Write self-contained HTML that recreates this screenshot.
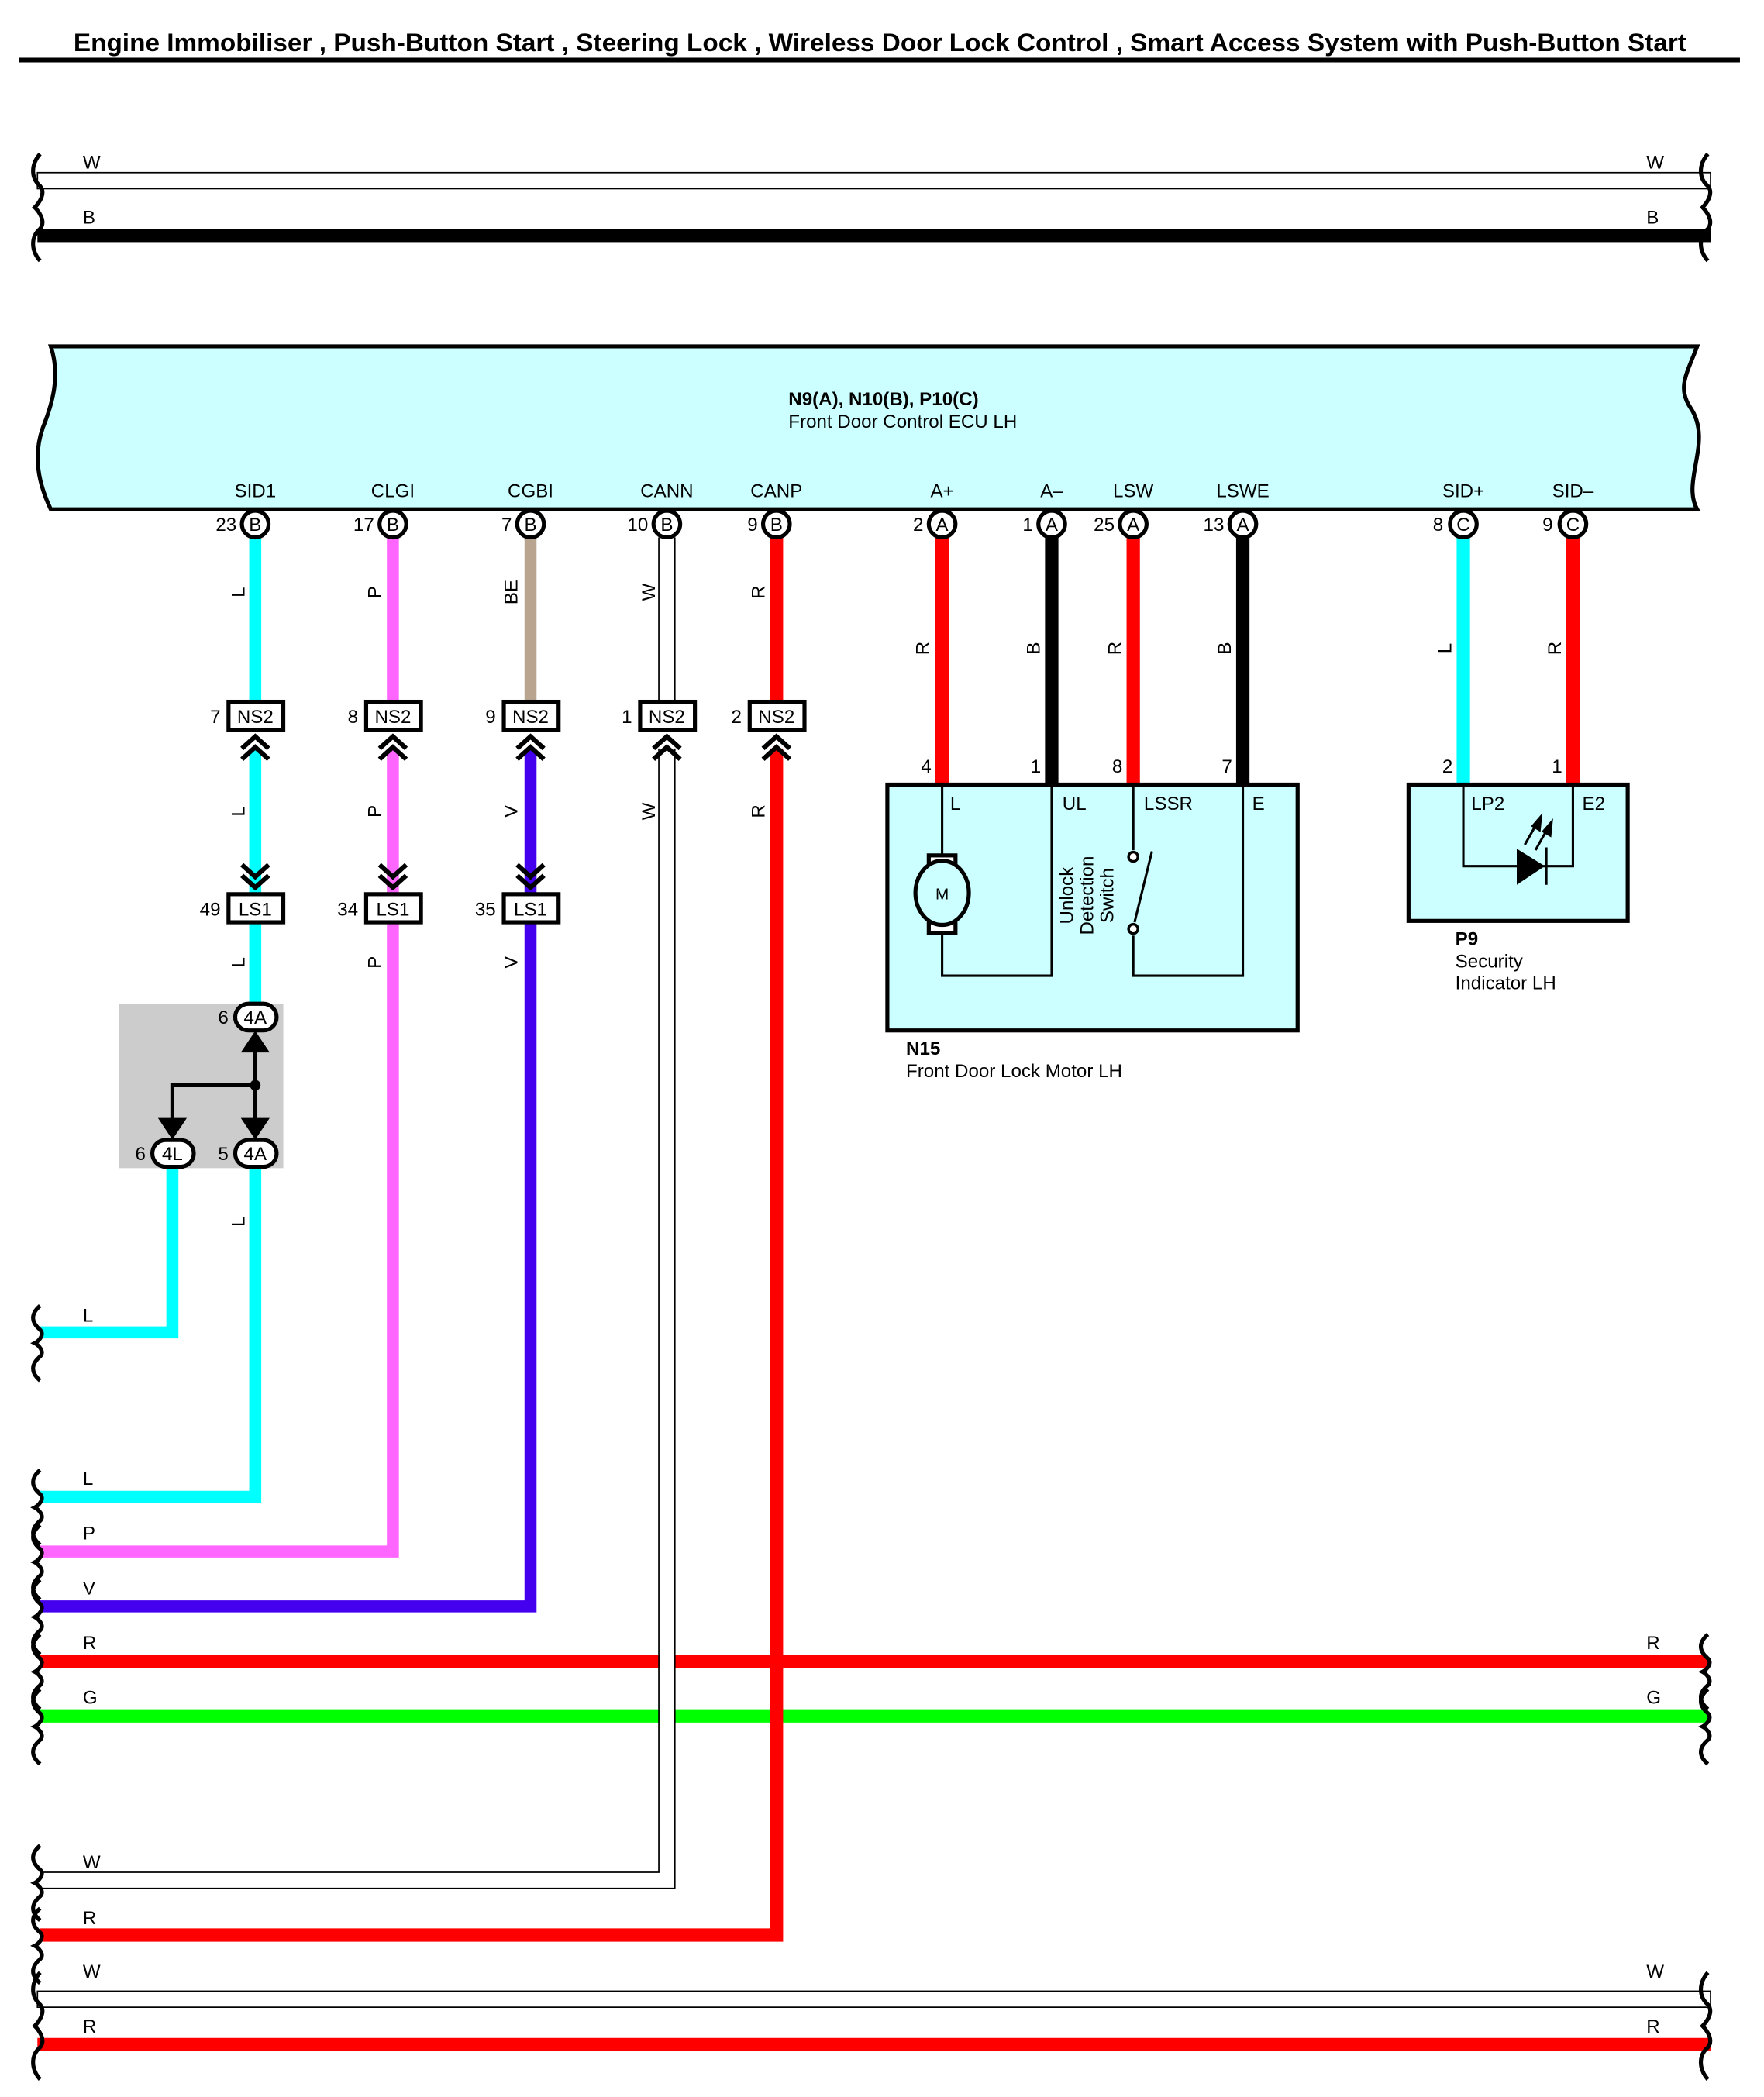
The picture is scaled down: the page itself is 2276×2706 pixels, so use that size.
<!DOCTYPE html>
<html><head><meta charset="utf-8"><style>
html,body{margin:0;padding:0;background:#fff}
svg{display:block}
text{font-family:"Liberation Sans",sans-serif;font-size:14px;fill:#000}
.b{font-weight:bold}
.rot{font-size:13px}
</style></head><body>
<svg width="2276" height="2706" viewBox="0 0 1320 1569" xmlns="http://www.w3.org/2000/svg">
<rect width="1320" height="1569" fill="#fff"/>
<text x="55" y="38" class="b" style="font-size:19px" textLength="1207" lengthAdjust="spacingAndGlyphs">Engine Immobiliser , Push-Button Start , Steering Lock , Wireless Door Lock Control , Smart Access System with Push-Button Start</text>
<rect x="14" y="43" width="1288" height="3.5" fill="#000"/>

<defs>
<path id="brL" d="M0,0 C-7,8 -7,18 0,24 C5,30 -2,38 -4,40 C-2,42 5,50 0,56 C-7,62 -7,72 0,80" fill="none" stroke="#000" stroke-width="3"/>
<path id="brS" d="M0,0 C-7,6 -7,12 0,18 C4,22 -2,27 -4,28 C-2,29 4,34 0,38 C-7,44 -7,50 0,56" fill="none" stroke="#000" stroke-width="3"/>
</defs>

<!-- top W / B -->
<rect x="28" y="129" width="1252" height="12" fill="#fff" stroke="#000" stroke-width="1"/>
<rect x="28" y="171" width="1252" height="10" fill="#000"/>
<text x="62" y="126">W</text><text x="1232" y="126">W</text>
<text x="62" y="167">B</text><text x="1232" y="167">B</text>
<use href="#brL" x="30" y="115"/><use href="#brL" x="1278" y="115"/>

<!-- ECU -->
<path d="M38,259 L1270,259 C1262,280 1255,290 1265,305 C1282,330 1258,360 1270,381 L38,381 C28,360 25,340 32,320 C40,300 45,280 38,259 Z" fill="#ccffff" stroke="#000" stroke-width="3"/>
<text x="590" y="303" class="b">N9(A), N10(B), P10(C)</text>
<text x="590" y="320">Front Door Control ECU LH</text>
<g text-anchor="middle">
<text x="191" y="372">SID1</text><text x="294" y="372">CLGI</text><text x="397" y="372">CGBI</text><text x="499" y="372">CANN</text><text x="581" y="372">CANP</text>
<text x="705" y="372">A+</text><text x="787" y="372">A–</text><text x="848" y="372">LSW</text><text x="930" y="372">LSWE</text>
<text x="1095" y="372">SID+</text><text x="1177" y="372">SID–</text>
</g>

<!-- wires -->
<g fill="none" stroke-linejoin="miter">
<polyline points="191,402 191,525" stroke="#00ffff" stroke-width="9"/>
<polyline points="191,560 191,669" stroke="#00ffff" stroke-width="9"/>
<polyline points="191,690 191,750" stroke="#00ffff" stroke-width="9"/>
<polyline points="191,874 191,1120 30,1120" stroke="#00ffff" stroke-width="9"/>
<polyline points="129,874 129,997 30,997" stroke="#00ffff" stroke-width="9"/>
<polyline points="294,402 294,525" stroke="#ff66ff" stroke-width="9"/>
<polyline points="294,560 294,669" stroke="#ff66ff" stroke-width="9"/>
<polyline points="294,690 294,1161 30,1161" stroke="#ff66ff" stroke-width="9"/>
<polyline points="397,402 397,525" stroke="#b8a48f" stroke-width="9"/>
<polyline points="397,560 397,669" stroke="#4400ee" stroke-width="9"/>
<polyline points="397,690 397,1202 30,1202" stroke="#4400ee" stroke-width="9"/>
<line x1="30" y1="1243" x2="1278" y2="1243" stroke="#ff0000" stroke-width="10"/>
<line x1="30" y1="1284" x2="1278" y2="1284" stroke="#00ff00" stroke-width="10"/>
<polyline points="493,402 493,525" stroke="#000" stroke-width="1"/>
<polyline points="505,402 505,525" stroke="#000" stroke-width="1"/>
<rect x="493.5" y="1236" width="11" height="54" fill="#fff" stroke="none"/>
<polyline points="493,560 493,1401 30,1401" stroke="#000" stroke-width="1"/>
<polyline points="505,560 505,1413 30,1413" stroke="#000" stroke-width="1"/>
<polyline points="581,402 581,525" stroke="#ff0000" stroke-width="10"/>
<polyline points="581,560 581,1448 30,1448" stroke="#ff0000" stroke-width="10"/>
<line x1="705" y1="402" x2="705" y2="587" stroke="#ff0000" stroke-width="10"/>
<line x1="787" y1="402" x2="787" y2="587" stroke="#000" stroke-width="10"/>
<line x1="848" y1="402" x2="848" y2="587" stroke="#ff0000" stroke-width="10"/>
<line x1="930" y1="402" x2="930" y2="587" stroke="#000" stroke-width="10"/>
<line x1="1095" y1="402" x2="1095" y2="587" stroke="#00ffff" stroke-width="10"/>
<line x1="1177" y1="402" x2="1177" y2="587" stroke="#ff0000" stroke-width="10"/>
</g>

<!-- bottom W / R -->
<rect x="28" y="1490" width="1252" height="12" fill="#fff" stroke="#000" stroke-width="1"/>
<line x1="28" y1="1530" x2="1280" y2="1530" stroke="#ff0000" stroke-width="10"/>
<text x="62" y="1480">W</text><text x="1232" y="1480">W</text>
<text x="62" y="1521">R</text><text x="1232" y="1521">R</text>
<use href="#brL" x="30" y="1476"/><use href="#brL" x="1278" y="1476"/>

<text x="62" y="989">L</text><use href="#brS" x="30" y="977"/>
<text x="62" y="1111">L</text><use href="#brS" x="30" y="1100"/>
<text x="62" y="1152">P</text><use href="#brS" x="30" y="1141"/>
<text x="62" y="1193">V</text><use href="#brS" x="30" y="1182"/>
<text x="62" y="1234">R</text><use href="#brS" x="30" y="1223"/><use href="#brS" x="1278" y="1223"/>
<text x="62" y="1275">G</text><use href="#brS" x="30" y="1264"/><use href="#brS" x="1278" y="1264"/>
<text x="1232" y="1234">R</text><text x="1232" y="1275">G</text>
<text x="62" y="1398">W</text><use href="#brS" x="30" y="1381"/>
<text x="62" y="1440">R</text><use href="#brS" x="30" y="1428"/>

<g stroke="#000" stroke-width="3" fill="#fff">
<circle cx="191" cy="392" r="10"/><circle cx="294" cy="392" r="10"/><circle cx="397" cy="392" r="10"/><circle cx="499" cy="392" r="10"/><circle cx="581" cy="392" r="10"/>
<circle cx="705" cy="392" r="10"/><circle cx="787" cy="392" r="10"/><circle cx="848" cy="392" r="10"/><circle cx="930" cy="392" r="10"/>
<circle cx="1095" cy="392" r="10"/><circle cx="1177" cy="392" r="10"/>
</g>
<g text-anchor="middle" style="font-size:13px">
<text x="191" y="397">B</text><text x="294" y="397">B</text><text x="397" y="397">B</text><text x="499" y="397">B</text><text x="581" y="397">B</text>
<text x="705" y="397">A</text><text x="787" y="397">A</text><text x="848" y="397">A</text><text x="930" y="397">A</text>
<text x="1095" y="397">C</text><text x="1177" y="397">C</text>
</g>
<g text-anchor="end">
<text x="177" y="397">23</text><text x="280" y="397">17</text><text x="383" y="397">7</text><text x="485" y="397">10</text><text x="567" y="397">9</text>
<text x="691" y="397">2</text><text x="773" y="397">1</text><text x="834" y="397">25</text><text x="916" y="397">13</text>
<text x="1080" y="397">8</text><text x="1162" y="397">9</text>
<text x="697" y="578">4</text><text x="779" y="578">1</text><text x="840" y="578">8</text><text x="922" y="578">7</text>
<text x="1087" y="578">2</text><text x="1169" y="578">1</text>
</g>

<g>
<g stroke="#000" stroke-width="3" fill="#fff">
<rect x="171" y="525" width="41" height="21"/><rect x="274" y="525" width="41" height="21"/><rect x="377" y="525" width="41" height="21"/><rect x="479" y="525" width="41" height="21"/><rect x="561" y="525" width="41" height="21"/>
<rect x="171" y="669" width="41" height="21"/><rect x="274" y="669" width="41" height="21"/><rect x="377" y="669" width="41" height="21"/>
</g>
<g text-anchor="middle">
<text x="191" y="541">NS2</text><text x="294" y="541">NS2</text><text x="397" y="541">NS2</text><text x="499" y="541">NS2</text><text x="581" y="541">NS2</text>
<text x="191" y="685">LS1</text><text x="294" y="685">LS1</text><text x="397" y="685">LS1</text>
</g>
<g text-anchor="end">
<text x="165" y="541">7</text><text x="268" y="541">8</text><text x="371" y="541">9</text><text x="473" y="541">1</text><text x="555" y="541">2</text>
<text x="165" y="685">49</text><text x="268" y="685">34</text><text x="371" y="685">35</text>
</g>
<g fill="none" stroke="#000" stroke-width="3.5">
<path d="M181,560 L191,551 L201,560 M181,568 L191,559 L201,568"/>
<path d="M284,560 L294,551 L304,560 M284,568 L294,559 L304,568"/>
<path d="M387,560 L397,551 L407,560 M387,568 L397,559 L407,568"/>
<path d="M489,560 L499,551 L509,560 M489,568 L499,559 L509,568"/>
<path d="M571,560 L581,551 L591,560 M571,568 L581,559 L591,568"/>
<path d="M181,647 L191,656 L201,647 M181,655 L191,664 L201,655"/>
<path d="M284,647 L294,656 L304,647 M284,655 L294,664 L304,655"/>
<path d="M387,647 L397,656 L407,647 M387,655 L397,664 L407,655"/>
</g>
</g>

<g class="rot" text-anchor="middle">
<text transform="translate(183,443) rotate(-90)">L</text>
<text transform="translate(285,443) rotate(-90)">P</text>
<text transform="translate(387,443) rotate(-90)">BE</text>
<text transform="translate(490,443) rotate(-90)">W</text>
<text transform="translate(572,443) rotate(-90)">R</text>
<text transform="translate(183,607) rotate(-90)">L</text>
<text transform="translate(285,607) rotate(-90)">P</text>
<text transform="translate(387,607) rotate(-90)">V</text>
<text transform="translate(490,607) rotate(-90)">W</text>
<text transform="translate(572,607) rotate(-90)">R</text>
<text transform="translate(183,720) rotate(-90)">L</text>
<text transform="translate(285,720) rotate(-90)">P</text>
<text transform="translate(387,720) rotate(-90)">V</text>
<text transform="translate(183,914) rotate(-90)">L</text>
<text transform="translate(695,485) rotate(-90)">R</text>
<text transform="translate(778,485) rotate(-90)">B</text>
<text transform="translate(839,485) rotate(-90)">R</text>
<text transform="translate(921,485) rotate(-90)">B</text>
<text transform="translate(1086,485) rotate(-90)">L</text>
<text transform="translate(1168,485) rotate(-90)">R</text>
</g>

<rect x="89" y="751" width="123" height="123" fill="#cccccc"/>
<g stroke="#000" stroke-width="3" fill="none">
<line x1="191" y1="812" x2="191" y2="780"/>
<polyline points="191,812 129,812 129,843"/>
<line x1="191" y1="812" x2="191" y2="843"/>
<path d="M183,786 L191,774 L199,786 Z" fill="#000"/>
<path d="M121,838 L129,850 L137,838 Z" fill="#000"/>
<path d="M183,838 L191,850 L199,838 Z" fill="#000"/>
</g>
<circle cx="191" cy="812" r="4" fill="#000"/>
<g stroke="#000" stroke-width="3" fill="#fff">
<rect x="176" y="751" width="31" height="20" rx="10"/>
<rect x="176" y="853" width="31" height="20" rx="10"/>
<rect x="114" y="853" width="31" height="20" rx="10"/>
</g>
<g text-anchor="middle" style="font-size:13px">
<text x="191" y="766">4A</text><text x="191" y="868">4A</text><text x="129" y="868">4L</text>
</g>
<g text-anchor="end"><text x="171" y="766">6</text><text x="171" y="868">5</text><text x="109" y="868">6</text></g>

<rect x="664" y="587" width="307" height="184" fill="#ccffff" stroke="#000" stroke-width="3"/>
<g fill="none" stroke="#000" stroke-width="1.8">
<polyline points="705,587 705,642"/>
<polyline points="705,696 705,730 787,730 787,587"/>
<polyline points="848,587 848,636"/>
<polyline points="848,700 848,730 930,730 930,587"/>
<line x1="849" y1="690" x2="862" y2="637"/>
</g>
<rect x="695" y="640" width="20" height="58" stroke="#000" stroke-width="3" fill="#fff"/>
<ellipse cx="705" cy="668" rx="20" ry="24" fill="#ccffff" stroke="#000" stroke-width="3"/>
<circle cx="848" cy="641" r="3.5" fill="#fff" stroke="#000" stroke-width="2"/>
<circle cx="848" cy="695" r="3.5" fill="#fff" stroke="#000" stroke-width="2"/>
<text x="705" y="673" text-anchor="middle" style="font-size:12px">M</text>
<text x="711" y="606">L</text><text x="795" y="606">UL</text><text x="856" y="606">LSSR</text><text x="937" y="606">E</text>
<g style="font-size:13px" text-anchor="middle">
<text transform="translate(803,670) rotate(-90)">Unlock</text>
<text transform="translate(818,670) rotate(-90)">Detection</text>
<text transform="translate(833,670) rotate(-90)">Switch</text>
</g>
<text x="678" y="789" class="b">N15</text>
<text x="678" y="806">Front Door Lock Motor LH</text>

<rect x="1054" y="587" width="164" height="102" fill="#ccffff" stroke="#000" stroke-width="3"/>
<polyline points="1095,587 1095,648 1177,648 1177,587" fill="none" stroke="#000" stroke-width="1.8"/>
<path d="M1135,635 L1135,662 L1156,648 Z" fill="#000"/>
<line x1="1157" y1="634" x2="1157" y2="662" stroke="#000" stroke-width="2"/>
<g stroke="#000" stroke-width="1.8" fill="#000">
<line x1="1141" y1="632" x2="1150" y2="616"/><path d="M1147,618 L1153,611 L1152,621 Z"/>
<line x1="1149" y1="636" x2="1158" y2="620"/><path d="M1155,622 L1161,615 L1160,625 Z"/>
</g>
<text x="1101" y="606">LP2</text><text x="1184" y="606">E2</text>
<text x="1089" y="707" class="b">P9</text>
<text x="1089" y="724">Security</text>
<text x="1089" y="740">Indicator LH</text>
</svg>
</body></html>
